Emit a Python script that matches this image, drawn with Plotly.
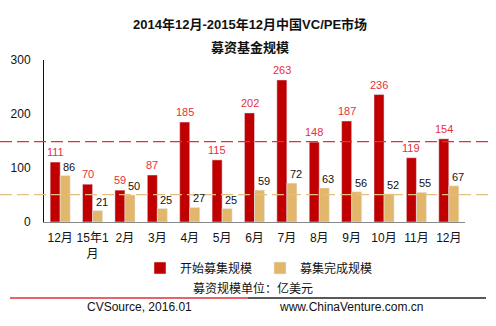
import plotly.graph_objects as go

months = ["12月", "15年1月", "2月", "3月", "4月", "5月", "6月",
          "7月", "8月", "9月", "10月", "11月", "12月 "]
tick_text = ["12月", "15年1<br>月", "2月", "3月", "4月", "5月", "6月",
             "7月", "8月", "9月", "10月", "11月", "12月"]
start_raise = [111, 70, 59, 87, 185, 115, 202, 263, 148, 187, 236, 119, 154]
closed_raise = [86, 21, 50, 25, 27, 25, 59, 72, 63, 56, 52, 55, 67]

RED = "#c00000"
TAN = "#e2b76b"
FONT = "Liberation Sans, Noto Sans CJK SC, sans-serif"

avg_start = sum(start_raise) / len(start_raise)
avg_closed = sum(closed_raise) / len(closed_raise)

fig = go.Figure()
fig.add_trace(go.Bar(x=months, y=start_raise, name="开始募集规模", marker_color=RED))
fig.add_trace(go.Bar(x=months, y=closed_raise, name="募集完成规模", marker_color=TAN))

# plot area spans x 44..465 px, y 60..222 px
L, R, T, B = 44, 31, 60, 104
W, H = 496, 326
pw, ph = W - L - R, H - T - B

def px(x):
    return (x - L) / pw

def py(y):
    return (H - B - y) / ph

shapes = [
    dict(type="line", xref="paper", yref="y", x0=px(0), x1=px(490),
         y0=avg_start, y1=avg_start, line=dict(color="#e0303a", width=1.2, dash="12px,5px")),
    dict(type="line", xref="paper", yref="y", x0=px(0), x1=px(490),
         y0=avg_closed, y1=avg_closed, line=dict(color="#e6bf7e", width=1.2, dash="12px,5px")),
    dict(type="line", xref="paper", yref="paper", x0=px(10), x1=px(248),
         y0=py(298), y1=py(298), line=dict(color="#e0303a", width=1.5)),
    dict(type="line", xref="paper", yref="paper", x0=px(248), x1=px(486),
         y0=py(298), y1=py(298), line=dict(color="#222222", width=1.5)),
]

def label(text, x, y, size=12):
    return dict(text=text, x=px(x), y=py(y), xref="paper", yref="paper",
                xanchor="center", yanchor="middle", showarrow=False,
                font=dict(size=size, color="#111"))

annotations = [
    label("<b>2014年12月-2015年12月中国VC/PE市场</b>", 250, 25, 13),
    label("<b>募资基金规模</b>", 250, 47, 13),
    label("募资规模单位：亿美元", 253, 288),
    label("CVSource, 2016.01", 139, 307),
    label("www.ChinaVenture.com.cn", 351, 307),
]

# value labels above each bar, anchored to the data point
for m, v in zip(months, start_raise):
    annotations.append(dict(x=m, y=v, xref="x", yref="y", text=str(v), showarrow=False,
                            xanchor="center", yanchor="bottom", xshift=-5, yshift=3,
                            borderpad=0, font=dict(size=11, color="#e8303a")))
for m, v in zip(months, closed_raise):
    annotations.append(dict(x=m, y=v, xref="x", yref="y", text=str(v), showarrow=False,
                            xanchor="center", yanchor="bottom", xshift=9, yshift=2,
                            borderpad=0, font=dict(size=11, color="#111111")))

fig.update_layout(
    width=W, height=H,
    margin=dict(l=L, r=R, t=T, b=B, autoexpand=False),
    paper_bgcolor="white", plot_bgcolor="white",
    font=dict(family=FONT, size=12, color="#111"),
    barmode="group", bargap=0.38, bargroupgap=0,
    showlegend=True,
    legend=dict(orientation="h", x=px(140), xanchor="left", y=py(268), yanchor="middle",
                font=dict(size=12), entrywidth=75, itemwidth=30,
                bgcolor="rgba(0,0,0,0)"),
    shapes=shapes, annotations=annotations,
)
fig.update_xaxes(
    tickvals=months, ticktext=tick_text, showline=True, linecolor="#888888",
    linewidth=1, ticks="", showgrid=False, tickfont=dict(size=12),
    ticklabelstandoff=5,
)
fig.update_yaxes(
    range=[0, 300], tickvals=[0, 100, 200, 300], showline=True, linecolor="#111111",
    linewidth=1, ticks="", showgrid=False, zeroline=False, tickfont=dict(size=12),
    ticklabelstandoff=10,
)

fig.write_html("out.html")
